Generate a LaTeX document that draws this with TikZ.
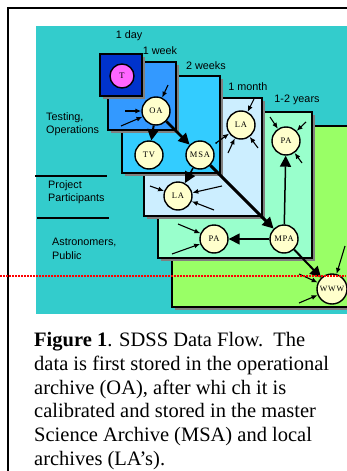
\documentclass[tikz,border=0pt]{standalone}
\usepackage{fontspec}
\setmainfont{Liberation Serif}
\newfontfamily\labelfont{Liberation Sans}
\newfontfamily\storefont[LetterSpace=10]{Liberation Serif}
\usepackage{tikz}
\usetikzlibrary{arrows.meta}

\definecolor{bgteal}{HTML}{33CCCC}
\definecolor{dayblue}{HTML}{0033CC}
\definecolor{weekblue}{HTML}{3399FF}
\definecolor{twoweekblue}{HTML}{33CCFF}
\definecolor{monthblue}{HTML}{CCEEFF}
\definecolor{yearmint}{HTML}{99FFCC}
\definecolor{wwwgreen}{HTML}{99FF66}
\definecolor{storefill}{HTML}{FFFFCC}
\definecolor{tmagenta}{HTML}{FF66FF}
\definecolor{shadowgray}{HTML}{808080}

\tikzset{
  store/.style={circle, draw, line width=1.4pt, fill=storefill, minimum size=28pt,
    inner sep=0pt, font=\storefont\fontsize{8.5}{9}\selectfont},
  tier/.style={draw, line width=1.4pt},
  usr/.style={-{Latex[length=6pt,width=5pt]}, line width=1.1pt},
  flow/.style={-{Triangle[length=11pt,width=11pt]}},
  tag/.style={font=\labelfont\fontsize{10.8}{13}\selectfont, align=left, inner sep=0pt},
}

\begin{document}
\begin{tikzpicture}[x=1pt,y=-1pt]
\useasboundingbox (0,0) rectangle (346,471);

% frame and background
\draw[line width=2pt] (8,471) -- (8,8) -- (360,8);
\fill[bgteal] (36,26) rectangle (360,314);

% retention tiers, back to front
\foreach \xa/\ya/\xb/\yb/\col in {172/126/370/307/wwwgreen, 158/112/312/258/yearmint,
    144/98/262/216/monthblue, 122/76/220/173/twoweekblue, 108/62/176/130/weekblue,
    100/54/142/96/dayblue}{
  \fill[shadowgray] (\xa+3,\ya+3) rectangle (\xb+3,\yb+3);
  \draw[tier, fill=\col] (\xa,\ya) rectangle (\xb,\yb);
}

\node[tag] (day) at (129,36) {1 day};
\node[tag] (week) at (160,51) {1 week};
\node[tag] (twoweeks) at (206,66) {2 weeks};
\node[tag] (month) at (248,87) {1 month};
\node[tag] (years) at (297,100) {1-2 years};

\node[tag, anchor=west] (testing) at (46,124) {Testing,\\Operations};
\node[tag, anchor=west] (project) at (48,192) {Project\\Participants};
\node[tag, anchor=west, font=\labelfont\fontsize{10.8}{14}\selectfont] (public) at (52,249) {Astronomers,\\Public};
\draw[line width=1.3pt] (35,176) -- (107,176);
\draw[line width=1.3pt] (37,218) -- (109,218);

% archives
\node[store, fill=tmagenta, minimum size=24pt] (T) at (122,76) {T};
\node[store] (OA) at (156,111) {OA};
\node[store] (TV) at (149,155) {TV};
\node[store] (MSA) at (200,155) {MSA};
\node[store] (LAa) at (241,125) {LA};
\node[store] (PAa) at (286,141) {PA};
\node[store] (LAb) at (178,196) {LA};
\node[store] (PAb) at (214,239) {PA};
\node[store] (MPA) at (284,239) {MPA};
\node[store, minimum size=30pt, font=\storefont\fontsize{8}{9}\selectfont] (WWW) at (332,289) {WWW};

% data flow
\draw[flow, line width=2pt] (OA) -- (TV);
\draw[flow, line width=2.5pt] (OA) -- (MSA);
\draw[flow, line width=1.5pt] (MSA) -- (LAb);
\draw[flow, line width=3pt] (MSA) -- (MPA);
\draw[flow, line width=1.5pt] (MPA) -- (PAb);
\draw[flow, line width=1.5pt] (MPA) -- (PAa);
\draw[flow, line width=2pt] (MPA) -- (WWW);

% users
\coordinate (oa1) at (168,85);
\coordinate (oa2) at (125,111);
\coordinate (oa3) at (121,126);
\coordinate (laa0) at (216,143);
\coordinate (laa1) at (254,99);
\coordinate (laa2) at (228,153);
\coordinate (laa3) at (258,148);
\coordinate (paa1) at (270,117);
\coordinate (paa2) at (306,122);
\coordinate (paa3) at (302,163);
\coordinate (lab1) at (150,186);
\coordinate (lab2) at (222,186);
\coordinate (lab3) at (214,210);
\coordinate (pab1) at (178,224);
\coordinate (pab2) at (172,254);
\coordinate (www1) at (299,274);
\coordinate (www2) at (345,246);
\coordinate (www3) at (299,303);
\fill (laa0) circle (1pt);
\foreach \src/\dst in {oa1/OA, oa2/OA, oa3/OA, laa0/LAa, laa1/LAa, laa2/LAa, laa3/LAa,
    paa1/PAa, paa2/PAa, paa3/PAa, lab1/LAb, lab2/LAb, lab3/LAb, pab1/PAb, pab2/PAb,
    www1/WWW, www2/WWW, www3/WWW}
  \draw[usr] (\src) -- (\dst);

\draw[red, line width=1.2pt, dash pattern=on 2pt off 1pt] (0,276) -- (346,276);

% caption
\node[anchor=north west, align=left, inner sep=0pt, font=\fontsize{20.5}{23.8}\selectfont] (caption) at (34,332)
  {\textbf{Figure 1}. SDSS Data Flow.\ \ The\\
   data is first stored in the operational\\
   archive (OA), after whi ch it is\\
   calibrated and stored in the master\\
   Science Archive (MSA) and local\\
   archives (LA’s).};
\end{tikzpicture}
\end{document}
